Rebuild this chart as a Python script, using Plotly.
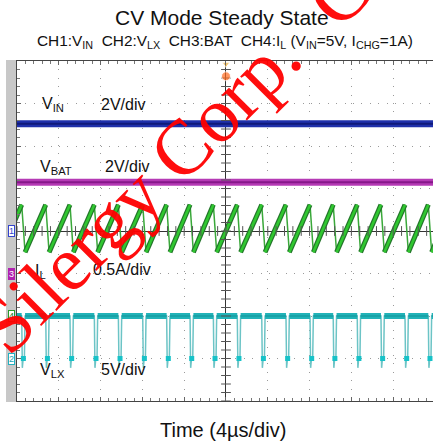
import numpy as np
import plotly.graph_objects as go

# ---------------- values ----------------
# instants (µs) where the switch turns off: VLX falls and IL peaks
switch_times_us = [-21.85, -19.55, -17.25, -14.93, -12.60, -10.30, -7.97, -5.68,
                   -3.44, -1.21, 1.08, 3.42, 5.74, 8.04, 10.26, 12.56, 14.83,
                   17.13, 19.36, 21.65]
off_time_us = 0.32

vin_level_v = 5.05          # CH1
vbat_level_v = 4.30         # CH3
il_peak_a = 1.31            # CH4
il_valley_a = 0.75
vlx_high_v = 5.0            # CH2
vlx_low_v = 0.0
vlx_undershoot_v = -1.1

channel_labels = ["1", "3", "4", "2"]
volts_per_div = {"1": 2.0, "2": 5.0, "3": 2.0, "4": 0.5}
ground_div = {"1": 0.0, "2": -3.0, "3": -1.0, "4": -2.0}
trigger_time_us = 0.0

screen_time_us = [-20.0, 20.0]
x_range = [-20.0, 19.81]
y_range = [-4.0, 4.0]


def to_div(ch, values):
    return [None if v is None else ground_div[ch] + v / volts_per_div[ch] for v in values]


# ---------------- build traces ----------------
il_t, il_v = [], []
for t in switch_times_us:
    il_t += [t, t + off_time_us]
    il_v += [il_peak_a, il_valley_a]
rise_t, rise_v = [], []
for a, b in zip(switch_times_us[:-1], switch_times_us[1:]):
    rise_t += [a + off_time_us, b, None]
    rise_v += [il_valley_a, il_peak_a, None]

lx_t, lx_v = [], []
for t in switch_times_us:
    lx_t += [t, t + 0.06, t + 0.14, t + off_time_us - 0.06, t + off_time_us]
    lx_v += [vlx_high_v, vlx_undershoot_v, vlx_low_v, vlx_low_v + 0.2, vlx_high_v]
hi_t, hi_v = [], []
for a, b in zip(switch_times_us[:-1], switch_times_us[1:]):
    hi_t += [a + off_time_us, b, None]
    hi_v += [vlx_high_v, vlx_high_v, None]
blob_t = [t + off_time_us / 2 for t in switch_times_us]
blob_v = [vlx_low_v for _ in switch_times_us]

fig = go.Figure()

fig.add_trace(go.Scatter(x=screen_time_us, y=to_div("1", [vin_level_v] * 2), mode="lines",
                         line=dict(color="#1f30ab", width=7), hoverinfo="skip"))
fig.add_trace(go.Scatter(x=screen_time_us, y=to_div("1", [vin_level_v] * 2), mode="lines",
                         line=dict(color="#101a7a", width=2), hoverinfo="skip"))
fig.add_trace(go.Scatter(x=screen_time_us, y=to_div("3", [vbat_level_v] * 2), mode="lines",
                         line=dict(color="#b53ab5", width=7), hoverinfo="skip"))
fig.add_trace(go.Scatter(x=screen_time_us, y=to_div("3", [vbat_level_v] * 2), mode="lines",
                         line=dict(color="#86188a", width=2), hoverinfo="skip"))
fig.add_trace(go.Scatter(x=il_t, y=to_div("4", il_v), mode="lines",
                         line=dict(color="#3aa83a", width=1.5), hoverinfo="skip"))
fig.add_trace(go.Scatter(x=rise_t, y=to_div("4", rise_v), mode="lines",
                         line=dict(color="#23752a", width=5), hoverinfo="skip"))
fig.add_trace(go.Scatter(x=rise_t, y=to_div("4", rise_v), mode="lines",
                         line=dict(color="#30c830", width=2.6), hoverinfo="skip"))
fig.add_trace(go.Scatter(x=lx_t, y=to_div("2", lx_v), mode="lines",
                         line=dict(color="#6cc4c6", width=1.5), hoverinfo="skip"))
fig.add_trace(go.Scatter(x=hi_t, y=to_div("2", hi_v), mode="lines",
                         line=dict(color="#22b3b8", width=6), hoverinfo="skip"))
fig.add_trace(go.Scatter(x=hi_t, y=to_div("2", hi_v), mode="lines",
                         line=dict(color="#169ca2", width=1.5), hoverinfo="skip"))
fig.add_trace(go.Scatter(x=blob_t, y=to_div("2", blob_v), mode="markers",
                         marker=dict(color="#16c2c8", size=5, symbol="square"), hoverinfo="skip"))

# graticule tick marks on the centre lines
hx = np.arange(-20, 20.01, 0.8)
fig.add_trace(go.Scatter(x=hx, y=[0] * len(hx), mode="markers",
                         marker=dict(symbol="line-ns-open", size=7, color="#555",
                                     line=dict(width=1, color="#555")),
                         hoverinfo="skip"))
vy = np.arange(-4, 4.01, 0.2)
fig.add_trace(go.Scatter(x=[0] * len(vy), y=vy, mode="markers",
                         marker=dict(symbol="line-ew-open", size=7, color="#555",
                                     line=dict(width=1, color="#555")),
                         hoverinfo="skip"))

fig.add_trace(go.Scatter(x=[trigger_time_us, trigger_time_us], y=[3.93, 3.64], mode="markers",
                         marker=dict(symbol=["triangle-down", "circle"], size=[7, 9],
                                     color=["#f2b13a", "#ff6a1e"]),
                         cliponaxis=False, hoverinfo="skip"))

FONT = "Liberation Sans, Arial, sans-serif"
ann = []


def px_x(px):
    return (px - 17) / 416


def px_y(py):
    return (401 - py) / 340


def text_ann(text, x, y, size, xanchor="center", **kw):
    d = dict(text=text, x=x, y=y, xref="paper", yref="paper", xanchor=xanchor, yanchor="middle",
             showarrow=False, font=dict(family=FONT, size=size, color="#111"))
    d.update(kw)
    return d


ann.append(text_ann("CV Mode Steady State", px_x(222), px_y(17), 21))
ann.append(text_ann("CH1:V<sub>IN</sub>  CH2:V<sub>LX</sub>  CH3:BAT  CH4:I<sub>L</sub> (V<sub>IN</sub>=5V, I<sub>CHG</sub>=1A)",
                    px_x(224.5), px_y(42), 15.4))
ann.append(text_ann("Time (4µs/div)", px_x(222.5), px_y(430), 20))

labels = [("V<sub>IN</sub>", 40, 104), ("2V/div", 99, 104),
          ("V<sub>BAT</sub>", 38, 167), ("2V/div", 103, 166),
          ("I<sub>L</sub>", 33, 271), ("0.5A/div", 91, 269),
          ("V<sub>LX</sub>", 38, 370), ("5V/div", 99, 369)]
for txt, lx, ly in labels:
    ann.append(text_ann(txt, px_x(lx), px_y(ly), 16, xanchor="left"))

marker_style = {"1": ("#ffffff", "#3344cc", "#3344cc"),
                "3": ("#b020b0", "#b020b0", "#ffffff"),
                "4": ("#ffffff", "#2a9a2a", "#2a7a2a"),
                "2": ("#ffffff", "#22b0c0", "#22a0b0")}
for ch in channel_labels:
    bg, bd, fc = marker_style[ch]
    ann.append(dict(text=ch, x=px_x(11), y=ground_div[ch], xref="paper", yref="y",
                    xanchor="center", yanchor="middle",
                    showarrow=False, bgcolor=bg, bordercolor=bd, borderwidth=1, borderpad=0,
                    font=dict(family=FONT, size=9, color=fc)))

WM_FONT = dict(family="Liberation Serif, Times New Roman, serif", size=78, color="rgba(255,0,0,0.95)")
ann.append(dict(text="Silergy Corp.", x=px_x(138), y=px_y(191), xref="paper", yref="paper",
                xanchor="center", yanchor="middle", textangle=-45, showarrow=False, font=WM_FONT))
ann.append(dict(text="C", x=px_x(338), y=px_y(-6), xref="paper", yref="paper",
                xanchor="center", yanchor="middle", textangle=-45, showarrow=False, font=WM_FONT))

shapes = [dict(type="rect", xref="paper", yref="paper", x0=px_x(6), x1=px_x(16.3),
               y0=px_y(60), y1=px_y(402), fillcolor="#c8c8c8", line=dict(width=0), layer="below")]

fig.update_layout(
    width=433, height=441,
    margin=dict(l=17, r=0, t=61, b=40),
    paper_bgcolor="white", plot_bgcolor="white",
    showlegend=False,
    annotations=ann, shapes=shapes,
    xaxis=dict(range=x_range, dtick=4, tick0=0, showticklabels=False,
               showgrid=True, gridcolor="#9a9a9a", gridwidth=1, griddash="1px,7.4px",
               zeroline=True, zerolinecolor="#333", zerolinewidth=1.2,
               showline=True, linecolor="#444", linewidth=1.3, mirror="ticks",
               ticks="inside", ticklen=4, tickcolor="#666",
               minor=dict(ticks="inside", dtick=0.8, ticklen=3, tickcolor="#777", showgrid=False),
               fixedrange=True),
    yaxis=dict(range=y_range, dtick=1, tick0=0, showticklabels=False,
               showgrid=True, gridcolor="#9a9a9a", gridwidth=1, griddash="1px,7.4px",
               zeroline=True, zerolinecolor="#333", zerolinewidth=1.2,
               showline=True, linecolor="#444", linewidth=1.3, mirror=False,
               ticks="inside", ticklen=4, tickcolor="#666",
               minor=dict(ticks="inside", dtick=0.2, ticklen=3, tickcolor="#777", showgrid=False),
               fixedrange=True),
)

fig.write_html("out.html", config={"displayModeBar": False},
               post_script="document.body.style.margin='0';document.body.style.overflow='hidden';")
